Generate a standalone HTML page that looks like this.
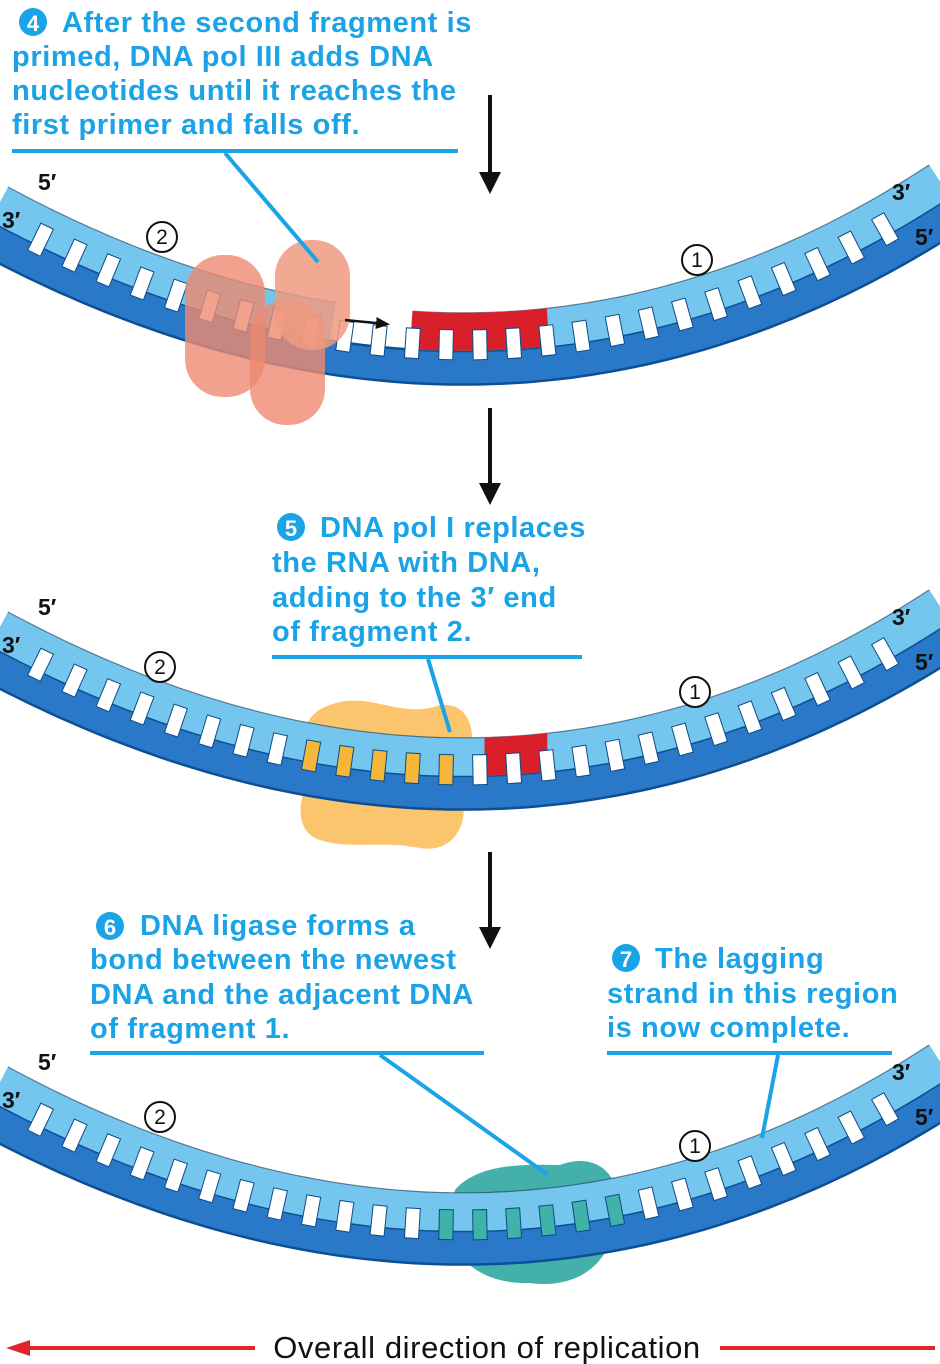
<!DOCTYPE html>
<html><head><meta charset="utf-8">
<style>
html,body{margin:0;padding:0;background:#fff;}
svg{display:block;font-family:"Liberation Sans",sans-serif;}
.cap{fill:#1aa3e6;font-weight:bold;font-size:29px;letter-spacing:0.6px;}
.end{fill:#111;font-weight:bold;font-size:23px;}
</style></head>
<body>
<svg id="dia" width="940" height="1364" viewBox="0 0 940 1364">
<defs>
<marker id="ah" markerUnits="userSpaceOnUse" markerWidth="22" markerHeight="26" refX="14" refY="13" orient="auto"><path d="M0,2 L22,13 L0,24 z" fill="#111"/></marker>
<marker id="ahs" markerUnits="userSpaceOnUse" markerWidth="14" markerHeight="14" refX="10" refY="7" orient="auto"><path d="M0,1 L14,7 L0,13 z" fill="#111"/></marker>
</defs>
<g id="layer"></g>

<g>
<circle cx="33" cy="22" r="14" fill="#1aa3e6"/><text x="33" y="31" text-anchor="middle" fill="#fff" font-weight="bold" font-size="22">4</text>
<text class="cap" x="62" y="32">After the second fragment is</text>
<text class="cap" x="12" y="66">primed, DNA pol III adds DNA</text>
<text class="cap" x="12" y="100">nucleotides until it reaches the</text>
<text class="cap" x="12" y="134">first primer and falls off.</text>
<line x1="12" y1="151" x2="458" y2="151" stroke="#1aa3e6" stroke-width="4"/>
</g>
<g>
<circle cx="291" cy="527" r="14" fill="#1aa3e6"/><text x="291" y="536" text-anchor="middle" fill="#fff" font-weight="bold" font-size="22">5</text>
<text class="cap" x="320" y="537">DNA pol I replaces</text>
<text class="cap" x="272" y="572">the RNA with DNA,</text>
<text class="cap" x="272" y="607">adding to the 3′ end</text>
<text class="cap" x="272" y="641">of fragment 2.</text>
<line x1="272" y1="657" x2="582" y2="657" stroke="#1aa3e6" stroke-width="4"/>
</g>
<g>
<circle cx="110" cy="926" r="14" fill="#1aa3e6"/><text x="110" y="935" text-anchor="middle" fill="#fff" font-weight="bold" font-size="22">6</text>
<text class="cap" x="140" y="935">DNA ligase forms a</text>
<text class="cap" x="90" y="969">bond between the newest</text>
<text class="cap" x="90" y="1004">DNA and the adjacent DNA</text>
<text class="cap" x="90" y="1038">of fragment 1.</text>
<line x1="90" y1="1053" x2="484" y2="1053" stroke="#1aa3e6" stroke-width="4"/>
</g>
<g>
<circle cx="626" cy="958" r="14" fill="#1aa3e6"/><text x="626" y="967" text-anchor="middle" fill="#fff" font-weight="bold" font-size="22">7</text>
<text class="cap" x="655" y="968">The lagging</text>
<text class="cap" x="607" y="1003">strand in this region</text>
<text class="cap" x="607" y="1037">is now complete.</text>
<line x1="607" y1="1053" x2="892" y2="1053" stroke="#1aa3e6" stroke-width="4"/>
</g>

<line x1="490" y1="95" x2="490" y2="186" stroke="#111" stroke-width="4" marker-end="url(#ah)"/>
<line x1="490" y1="408" x2="490" y2="497" stroke="#111" stroke-width="4" marker-end="url(#ah)"/>
<line x1="490" y1="852" x2="490" y2="941" stroke="#111" stroke-width="4" marker-end="url(#ah)"/>

<g>
<line x1="20" y1="1348" x2="255" y2="1348" stroke="#e0262b" stroke-width="4"/>
<path d="M6,1348 L30,1340 L30,1356 z" fill="#e0262b"/>
<line x1="720" y1="1348" x2="935" y2="1348" stroke="#e0262b" stroke-width="4"/>
<text x="487" y="1358" text-anchor="middle" font-size="31" fill="#111" letter-spacing="0.6">Overall direction of replication</text>
</g>
</svg>
<script>
const NS="http://www.w3.org/2000/svg";
const layer=document.getElementById('layer');
function mk(tag,attrs,parent){const e=document.createElementNS(NS,tag);for(const k in attrs)e.setAttribute(k,attrs[k]);(parent||layer).appendChild(e);return e;}
// strand boundary: cubic bezier (panel 1)
const B=[[-20,215],[320,402],[650,398],[960,190]];
function bz(t){const u=1-t;
 const x=u*u*u*B[0][0]+3*u*u*t*B[1][0]+3*u*t*t*B[2][0]+t*t*t*B[3][0];
 const y=u*u*u*B[0][1]+3*u*u*t*B[1][1]+3*u*t*t*B[2][1]+t*t*t*B[3][1];
 const dx=3*u*u*(B[1][0]-B[0][0])+6*u*t*(B[2][0]-B[1][0])+3*t*t*(B[3][0]-B[2][0]);
 const dy=3*u*u*(B[1][1]-B[0][1])+6*u*t*(B[2][1]-B[1][1])+3*t*t*(B[3][1]-B[2][1]);
 const L=Math.hypot(dx,dy);return {x,y,nx:dy/L,ny:-dx/L,ang:Math.atan2(dy,dx)*180/Math.PI};}
function tFor(x){let lo=0,hi=1;for(let k=0;k<40;k++){const m=(lo+hi)/2;if(bz(m).x<x)lo=m;else hi=m;}return (lo+hi)/2;}
function pt(x,dy){const c=bz(tFor(x));return {x:c.x,y:c.y+dy,nx:c.nx,ny:c.ny,ang:c.ang};}
function band(dy,off,x0,x1){let p=[];for(let i=0;i<=90;i++){const x=x0+(x1-x0)*i/90;const c=pt(x,dy);p.push([c.x+c.nx*off,c.y+c.ny*off]);}
 return "M"+p.map(q=>q[0].toFixed(1)+","+q[1].toFixed(1)).join(" L");}
const panels=[{dy:0,gap:[330,410],red:[410,550],prot:'p1',c2:[162,237],c1:[697,260]},{dy:425,gap:null,red:[485,550],prot:'p2',c2:[160,667],c1:[695,692]},{dy:880,gap:null,red:null,prot:'p3',c2:[160,1117],c1:[695,1146]}];
panels.forEach((p,i)=>{
 const g=mk('g',{});
 
 
 if(p.prot==='p3'){
  const pr=mk('path',{d:'M455,1190 C480,1160 540,1165 560,1165 C600,1150 625,1180 615,1215 C615,1260 580,1290 530,1283 C480,1285 445,1255 450,1215 z',fill:'#2fa8a0',opacity:0.9},g);
  
 }
 if(p.prot==='p2'){
  const pr=mk('path',{d:'M330,705 C370,690 400,720 440,705 C480,700 480,760 455,780 C475,810 460,855 420,848 C380,840 350,850 320,840 C290,830 300,790 315,770 C300,740 300,715 330,705 z',fill:'#fbbf5e',opacity:0.9},g);
  
 }
 const d=p.dy;
 mk('path',{d:band(d,-17,-10,950),stroke:'#0d4f95',"stroke-width":36,fill:'none'},g);
 mk('path',{d:band(d,-17,-10,950),stroke:'#2a78c8',"stroke-width":31,fill:'none'},g);
 const lt='#74c6ef';
 const segs=p.gap?[[-10,p.gap[0]],[p.gap[1],950]]:[[-10,950]];
 segs.forEach(s=>{
  mk('path',{d:band(d,19,s[0],s[1]),stroke:lt,"stroke-width":38,fill:'none'},g);
  mk('path',{d:band(d,38,s[0],s[1]),stroke:'#1a3550',"stroke-width":1.2,fill:'none',opacity:0.6},g);
 });
 if(p.red){const r=mk('path',{d:band(d,19,p.red[0],p.red[1]),stroke:'#d81f2a',"stroke-width":38,fill:'none'},g);
  }
 for(let x=38;x<=920;x+=34){
  const c=pt(x,d);const cx=c.x+c.nx*6,cy=c.y+c.ny*6;
  let fill='#fff';
  if(i===1&&x>300&&x<470)fill='#f4b73a';
  if(i===2&&x>440&&x<620)fill='#3fb3a8';
  const r=mk('rect',{x:-7,y:-15,width:14,height:30,fill:fill,stroke:'#0d4a85',"stroke-width":1,transform:`translate(${cx.toFixed(1)},${cy.toFixed(1)}) rotate(${c.ang.toFixed(1)})`},g);
  
 }
 if(p.prot==='p1'){
  const pr=mk('g',{},g);
  mk('rect',{x:185,y:255,width:80,height:142,rx:38,fill:'#ee8a70',opacity:0.8},pr);
  mk('rect',{x:250,y:300,width:75,height:125,rx:36,fill:'#ee8a70',opacity:0.8},pr);
  mk('rect',{x:275,y:240,width:75,height:110,rx:36,fill:'#f09a80',opacity:0.85},pr);
 }
 const lab=(t,x,y)=>{const e=mk('text',{x:x,y:y,class:'end'},g);e.textContent=t;};
 lab("5′",38,190+d); lab("3′",2,228+d); lab("3′",892,200+d); lab("5′",915,245+d);
 const circ=(n,pos)=>{const cx=pos[0],cy=pos[1];
  const cg=mk('g',{},g);
  mk('circle',{cx:cx,cy:cy,r:15,fill:'#fff',stroke:'#111',"stroke-width":2},cg);
  const t=mk('text',{x:cx,y:cy+7,"text-anchor":'middle',"font-size":21,fill:'#111'},cg);t.textContent=n;};
 circ('2',p.c2); circ('1',p.c1);
});
mk('path',{d:'M345,320 L386,324',stroke:'#111',"stroke-width":2.5,fill:'none','marker-end':'url(#ahs)'});
mk('line',{x1:225,y1:153,x2:318,y2:262,stroke:'#1aa3e6',"stroke-width":4});
mk('line',{x1:428,y1:659,x2:450,y2:732,stroke:'#1aa3e6',"stroke-width":4});
mk('line',{x1:380,y1:1055,x2:548,y2:1175,stroke:'#1aa3e6',"stroke-width":4});
mk('line',{x1:778,y1:1055,x2:762,y2:1138,stroke:'#1aa3e6',"stroke-width":4});
</script>
</body></html>
